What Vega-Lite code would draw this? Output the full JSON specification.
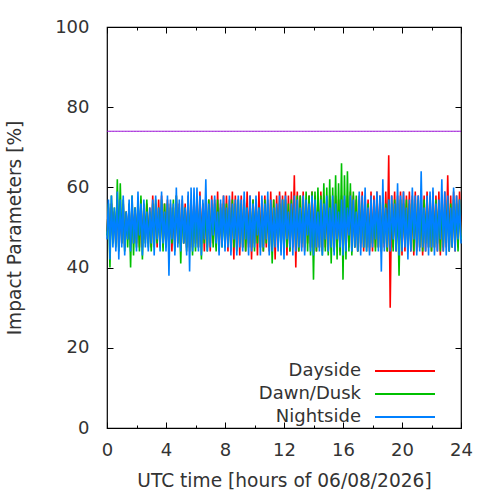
{
  "$schema": "https://vega.github.io/schema/vega-lite/v6.json",
  "width": 354,
  "height": 401,
  "autosize": {"type": "none"},
  "padding": {"left": 107, "top": 27, "right": 39, "bottom": 72},
  "data": {"values": [
    {"t":0,"D":49,"G":48,"N":47},{"t":0.1,"D":55,"G":56,"N":57},{"t":0.2,"D":46,"G":40,"N":42},{"t":0.3,"D":56,"G":58,"N":58},{"t":0.4,"D":47,"G":46,"N":45},{"t":0.5,"D":54,"G":55,"N":55},{"t":0.6,"D":46,"G":45,"N":44},{"t":0.7,"D":57,"G":62,"N":59},{"t":0.8,"D":45,"G":44,"N":42},{"t":0.9,"D":55,"G":61,"N":57},
    {"t":1,"D":46,"G":46,"N":45},{"t":1.1,"D":56,"G":57,"N":58},{"t":1.2,"D":45,"G":44,"N":43},{"t":1.3,"D":54,"G":54,"N":54},{"t":1.4,"D":47,"G":45,"N":47},{"t":1.5,"D":55,"G":56,"N":57},{"t":1.6,"D":45,"G":40,"N":44},{"t":1.7,"D":56,"G":58,"N":58},{"t":1.8,"D":46,"G":43,"N":46},{"t":1.9,"D":55,"G":55,"N":55},
    {"t":2,"D":46,"G":45,"N":44},{"t":2.1,"D":56,"G":57,"N":59},{"t":2.2,"D":45,"G":44,"N":48},{"t":2.3,"D":57,"G":58,"N":56},{"t":2.4,"D":45,"G":42,"N":43},{"t":2.5,"D":55,"G":56,"N":57},{"t":2.6,"D":47,"G":46,"N":45},{"t":2.7,"D":56,"G":57,"N":54},{"t":2.8,"D":46,"G":45,"N":44},{"t":2.9,"D":55,"G":54,"N":55},
    {"t":3,"D":45,"G":44,"N":46},{"t":3.1,"D":58,"G":56,"N":57},{"t":3.2,"D":46,"G":45,"N":43},{"t":3.3,"D":56,"G":57,"N":58},{"t":3.4,"D":45,"G":46,"N":47},{"t":3.5,"D":57,"G":55,"N":55},{"t":3.6,"D":46,"G":45,"N":44},{"t":3.7,"D":58,"G":57,"N":59},{"t":3.8,"D":45,"G":44,"N":46},{"t":3.9,"D":56,"G":56,"N":54},
    {"t":4,"D":46,"G":45,"N":44},{"t":4.1,"D":57,"G":56,"N":58},{"t":4.2,"D":45,"G":44,"N":38},{"t":4.3,"D":56,"G":55,"N":57},{"t":4.4,"D":44,"G":46,"N":47},{"t":4.5,"D":55,"G":57,"N":56},{"t":4.6,"D":45,"G":44,"N":43},{"t":4.7,"D":58,"G":58,"N":60},{"t":4.8,"D":46,"G":46,"N":45},{"t":4.9,"D":56,"G":55,"N":57},
    {"t":5,"D":45,"G":41,"N":44},{"t":5.1,"D":57,"G":56,"N":58},{"t":5.2,"D":46,"G":46,"N":46},{"t":5.3,"D":56,"G":55,"N":55},{"t":5.4,"D":45,"G":44,"N":43},{"t":5.5,"D":58,"G":57,"N":59},{"t":5.6,"D":44,"G":45,"N":39},{"t":5.7,"D":57,"G":56,"N":60},{"t":5.8,"D":45,"G":43,"N":44},{"t":5.9,"D":58,"G":57,"N":60},
    {"t":6,"D":46,"G":44,"N":45},{"t":6.1,"D":57,"G":56,"N":60},{"t":6.2,"D":45,"G":45,"N":44},{"t":6.3,"D":59,"G":57,"N":58},{"t":6.4,"D":46,"G":42,"N":43},{"t":6.5,"D":56,"G":56,"N":57},{"t":6.6,"D":44,"G":46,"N":47},{"t":6.7,"D":58,"G":55,"N":62},{"t":6.8,"D":45,"G":44,"N":44},{"t":6.9,"D":57,"G":57,"N":56},
    {"t":7,"D":44,"G":46,"N":45},{"t":7.1,"D":58,"G":55,"N":57},{"t":7.2,"D":46,"G":45,"N":48},{"t":7.3,"D":57,"G":56,"N":58},{"t":7.4,"D":45,"G":44,"N":46},{"t":7.5,"D":59,"G":57,"N":54},{"t":7.6,"D":44,"G":46,"N":43},{"t":7.7,"D":56,"G":55,"N":57},{"t":7.8,"D":46,"G":45,"N":45},{"t":7.9,"D":58,"G":56,"N":58},
    {"t":8,"D":46,"G":45,"N":44},{"t":8.1,"D":58,"G":56,"N":55},{"t":8.2,"D":44,"G":46,"N":45},{"t":8.3,"D":57,"G":55,"N":58},{"t":8.4,"D":45,"G":44,"N":43},{"t":8.5,"D":59,"G":57,"N":56},{"t":8.6,"D":42,"G":45,"N":47},{"t":8.7,"D":58,"G":56,"N":57},{"t":8.8,"D":45,"G":44,"N":43},{"t":8.9,"D":57,"G":57,"N":58},
    {"t":9,"D":43,"G":46,"N":45},{"t":9.1,"D":58,"G":56,"N":57},{"t":9.2,"D":45,"G":45,"N":44},{"t":9.3,"D":57,"G":57,"N":59},{"t":9.4,"D":44,"G":44,"N":47},{"t":9.5,"D":59,"G":55,"N":55},{"t":9.6,"D":45,"G":46,"N":43},{"t":9.7,"D":58,"G":56,"N":58},{"t":9.8,"D":42,"G":45,"N":44},{"t":9.9,"D":57,"G":57,"N":56},
    {"t":10,"D":46,"G":44,"N":45},{"t":10.1,"D":57,"G":57,"N":58},{"t":10.2,"D":43,"G":46,"N":48},{"t":10.3,"D":59,"G":55,"N":55},{"t":10.4,"D":45,"G":45,"N":43},{"t":10.5,"D":57,"G":56,"N":58},{"t":10.6,"D":44,"G":44,"N":45},{"t":10.7,"D":58,"G":57,"N":56},{"t":10.8,"D":45,"G":46,"N":47},{"t":10.9,"D":57,"G":56,"N":59},
    {"t":11,"D":44,"G":45,"N":43},{"t":11.1,"D":59,"G":56,"N":57},{"t":11.2,"D":45,"G":41,"N":44},{"t":11.3,"D":57,"G":57,"N":55},{"t":11.4,"D":42,"G":46,"N":45},{"t":11.5,"D":58,"G":55,"N":56},{"t":11.6,"D":46,"G":45,"N":44},{"t":11.7,"D":59,"G":56,"N":58},{"t":11.8,"D":45,"G":44,"N":43},{"t":11.9,"D":58,"G":57,"N":57},
    {"t":12,"D":45,"G":44,"N":42},{"t":12.1,"D":59,"G":57,"N":58},{"t":12.2,"D":43,"G":45,"N":47},{"t":12.3,"D":58,"G":56,"N":54},{"t":12.4,"D":44,"G":44,"N":45},{"t":12.5,"D":59,"G":57,"N":56},{"t":12.6,"D":45,"G":46,"N":43},{"t":12.7,"D":63,"G":55,"N":58},{"t":12.8,"D":40,"G":45,"N":44},{"t":12.9,"D":59,"G":58,"N":57},
    {"t":13,"D":44,"G":44,"N":45},{"t":13.1,"D":58,"G":58,"N":55},{"t":13.2,"D":45,"G":46,"N":44},{"t":13.3,"D":59,"G":57,"N":58},{"t":13.4,"D":44,"G":45,"N":43},{"t":13.5,"D":57,"G":59,"N":57},{"t":13.6,"D":46,"G":44,"N":48},{"t":13.7,"D":58,"G":58,"N":56},{"t":13.8,"D":45,"G":43,"N":44},{"t":13.9,"D":59,"G":59,"N":58},
    {"t":14,"D":45,"G":37,"N":43},{"t":14.1,"D":58,"G":59,"N":57},{"t":14.2,"D":44,"G":44,"N":45},{"t":14.3,"D":57,"G":60,"N":54},{"t":14.4,"D":45,"G":45,"N":44},{"t":14.5,"D":59,"G":58,"N":57},{"t":14.6,"D":44,"G":43,"N":43},{"t":14.7,"D":58,"G":61,"N":56},{"t":14.8,"D":45,"G":44,"N":47},{"t":14.9,"D":57,"G":60,"N":58},
    {"t":15,"D":44,"G":43,"N":44},{"t":15.1,"D":58,"G":62,"N":55},{"t":15.2,"D":45,"G":41,"N":45},{"t":15.3,"D":57,"G":60,"N":58},{"t":15.4,"D":44,"G":44,"N":43},{"t":15.5,"D":58,"G":63,"N":56},{"t":15.6,"D":45,"G":42,"N":47},{"t":15.7,"D":57,"G":61,"N":54},{"t":15.8,"D":44,"G":43,"N":45},{"t":15.9,"D":58,"G":66,"N":57},
    {"t":16,"D":45,"G":37,"N":43},{"t":16.1,"D":57,"G":63,"N":58},{"t":16.2,"D":44,"G":42,"N":44},{"t":16.3,"D":58,"G":64,"N":55},{"t":16.4,"D":45,"G":44,"N":48},{"t":16.5,"D":59,"G":61,"N":58},{"t":16.6,"D":44,"G":43,"N":44},{"t":16.7,"D":58,"G":59,"N":57},{"t":16.8,"D":45,"G":45,"N":45},{"t":16.9,"D":57,"G":58,"N":54},
    {"t":17,"D":44,"G":44,"N":44},{"t":17.1,"D":58,"G":57,"N":59},{"t":17.2,"D":45,"G":46,"N":43},{"t":17.3,"D":59,"G":56,"N":58},{"t":17.4,"D":44,"G":45,"N":45},{"t":17.5,"D":58,"G":57,"N":60},{"t":17.6,"D":45,"G":44,"N":44},{"t":17.7,"D":57,"G":56,"N":55},{"t":17.8,"D":44,"G":45,"N":43},{"t":17.9,"D":59,"G":55,"N":58},
    {"t":18,"D":44,"G":46,"N":45},{"t":18.1,"D":58,"G":56,"N":57},{"t":18.2,"D":45,"G":44,"N":47},{"t":18.3,"D":59,"G":57,"N":59},{"t":18.4,"D":45,"G":45,"N":44},{"t":18.5,"D":58,"G":56,"N":58},{"t":18.6,"D":44,"G":44,"N":39},{"t":18.7,"D":57,"G":57,"N":62},{"t":18.8,"D":45,"G":46,"N":44},{"t":18.9,"D":59,"G":56,"N":55},
    {"t":19,"D":44,"G":44,"N":45},{"t":19.1,"D":68,"G":57,"N":57},{"t":19.2,"D":30,"G":45,"N":44},{"t":19.3,"D":58,"G":56,"N":58},{"t":19.4,"D":45,"G":44,"N":47},{"t":19.5,"D":59,"G":57,"N":56},{"t":19.6,"D":44,"G":45,"N":44},{"t":19.7,"D":58,"G":56,"N":61},{"t":19.8,"D":45,"G":38,"N":43},{"t":19.9,"D":59,"G":57,"N":58},
    {"t":20,"D":43,"G":45,"N":44},{"t":20.1,"D":59,"G":56,"N":59},{"t":20.2,"D":44,"G":46,"N":45},{"t":20.3,"D":58,"G":57,"N":55},{"t":20.4,"D":45,"G":44,"N":42},{"t":20.5,"D":59,"G":56,"N":57},{"t":20.6,"D":44,"G":45,"N":44},{"t":20.7,"D":58,"G":57,"N":60},{"t":20.8,"D":43,"G":44,"N":47},{"t":20.9,"D":59,"G":56,"N":58},
    {"t":21,"D":44,"G":46,"N":43},{"t":21.1,"D":58,"G":57,"N":58},{"t":21.2,"D":45,"G":45,"N":44},{"t":21.3,"D":59,"G":56,"N":64},{"t":21.4,"D":43,"G":44,"N":45},{"t":21.5,"D":58,"G":57,"N":55},{"t":21.6,"D":44,"G":46,"N":44},{"t":21.7,"D":59,"G":56,"N":58},{"t":21.8,"D":45,"G":45,"N":43},{"t":21.9,"D":58,"G":57,"N":59},
    {"t":22,"D":44,"G":44,"N":45},{"t":22.1,"D":59,"G":56,"N":60},{"t":22.2,"D":45,"G":45,"N":43},{"t":22.3,"D":58,"G":57,"N":56},{"t":22.4,"D":44,"G":46,"N":44},{"t":22.5,"D":59,"G":56,"N":57},{"t":22.6,"D":43,"G":44,"N":47},{"t":22.7,"D":58,"G":57,"N":62},{"t":22.8,"D":44,"G":45,"N":44},{"t":22.9,"D":59,"G":56,"N":59},
    {"t":23,"D":45,"G":46,"N":43},{"t":23.1,"D":63,"G":57,"N":58},{"t":23.2,"D":44,"G":44,"N":44},{"t":23.3,"D":58,"G":56,"N":55},{"t":23.4,"D":45,"G":45,"N":45},{"t":23.5,"D":59,"G":57,"N":60},{"t":23.6,"D":44,"G":46,"N":44},{"t":23.7,"D":58,"G":56,"N":58},{"t":23.8,"D":45,"G":44,"N":47},{"t":23.9,"D":59,"G":57,"N":57},
    {"t":24,"D":48,"G":47,"N":46}
  ]},
  "resolve": {"axis": {"x": "independent", "y": "independent"}},
  "layer": [
    {
      "mark": {"type": "line", "color": "#9400d3", "strokeWidth": 1},
      "encoding": {
        "x": {"field": "t", "type": "quantitative", "scale": {"domain": [0, 24], "nice": false, "zero": false},
          "axis": {"orient": "top", "values": [2, 6, 10, 14, 18, 22], "labels": false, "grid": false, "tickSize": -3, "title": null}},
        "y": {"datum": 74, "type": "quantitative", "scale": {"domain": [0, 100], "nice": false}, "axis": null}
      }
    },
    {
      "mark": {"type": "line", "strokeWidth": 1.6},
      "encoding": {
        "x": {"field": "t", "type": "quantitative",
          "axis": {"orient": "top", "values": [0, 4, 8, 12, 16, 20, 24], "labels": false, "grid": false, "tickSize": -6, "title": null}},
        "y": {"field": "D", "type": "quantitative",
          "axis": {"orient": "right", "values": [0, 20, 40, 60, 80, 100], "labels": false, "grid": false, "tickSize": -6, "title": null}},
        "color": {"datum": "Dayside", "type": "nominal",
          "scale": {"domain": ["Dayside", "Dawn/Dusk", "Nightside"], "range": ["#ff0000", "#00c000", "#0080ff"]},
          "legend": {"title": null}}
      }
    },
    {
      "mark": {"type": "line", "strokeWidth": 1.6},
      "encoding": {
        "x": {"field": "t", "type": "quantitative",
          "axis": {"orient": "bottom", "values": [2, 6, 10, 14, 18, 22], "labels": false, "grid": false, "tickSize": -3, "title": null}},
        "y": {"field": "G", "type": "quantitative", "axis": null},
        "color": {"datum": "Dawn/Dusk", "type": "nominal", "legend": {"title": null}}
      }
    },
    {
      "mark": {"type": "line", "strokeWidth": 1.6},
      "encoding": {
        "x": {"field": "t", "type": "quantitative",
          "axis": {"orient": "bottom", "values": [0, 4, 8, 12, 16, 20, 24], "tickSize": -6, "labelPadding": 19, "labelFlush": false,
            "title": "UTC time [hours of 06/08/2026]", "titlePadding": 12,
            "gridOpacity": {"condition": {"test": "datum.value > 0 && datum.value < 24", "value": 1}, "value": 0}}},
        "y": {"field": "N", "type": "quantitative",
          "axis": {"orient": "left", "values": [0, 20, 40, 60, 80, 100], "tickSize": -6, "labelPadding": 24,
            "title": "Impact Parameters [%]", "titlePadding": 30,
            "gridOpacity": {"condition": {"test": "datum.value > 0 && datum.value < 100", "value": 1}, "value": 0}}},
        "color": {"datum": "Nightside", "type": "nominal", "legend": {"title": null}}
      }
    }
  ],
  "config": {
    "view": {"stroke": "black", "strokeWidth": 1.2},
    "axis": {
      "domain": false,
      "tickColor": "black",
      "tickWidth": 1,
      "labelFont": "DejaVu Sans",
      "labelFontSize": 18,
      "labelColor": "#333333",
      "titleFont": "DejaVu Sans",
      "titleFontSize": 18.6,
      "titleFontWeight": "normal",
      "titleColor": "#333333",
      "gridColor": "#a0a0a0",
      "gridDash": [2, 3],
      "gridWidth": 1
    },
    "legend": {
      "orient": "none",
      "legendX": 179,
      "legendY": 335,
      "padding": 0,
      "symbolType": "M-6,0H6",
      "symbolSize": 100,
      "symbolStrokeWidth": 2,
      "symbolOffset": 110,
      "labelOffset": -53,
      "labelAlign": "right",
      "rowPadding": 5,
      "labelFont": "DejaVu Sans",
      "labelFontSize": 18,
      "labelColor": "#333333",
      "labelLimit": 200
    }
  }
}
